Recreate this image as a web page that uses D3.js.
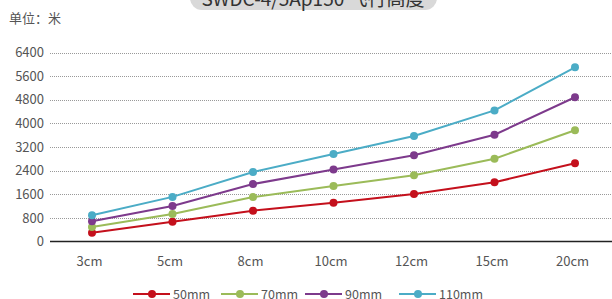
<!DOCTYPE html>
<html>
<head>
<meta charset="utf-8">
<script src="https://cdn.jsdelivr.net/npm/d3@7"></script>
<style>
  body { margin: 0; background: #fff; }
  svg { display: block; font-family: "Noto Sans CJK SC", "Noto Sans", sans-serif; }
</style>
</head>
<body>
<div id="chart"></div>
<script>
// chart data
var categories = ["3cm", "5cm", "8cm", "10cm", "12cm", "15cm", "20cm"];
var seriesNames = ["50mm", "70mm", "90mm", "110mm"];
var s50  = [300, 665, 1045, 1310, 1610, 2005, 2650];
var s70  = [490, 930, 1505, 1880, 2240, 2805, 3765];
var s90  = [685, 1205, 1945, 2440, 2920, 3615, 4885];
var s110 = [890, 1510, 2355, 2965, 3575, 4440, 5900];
var yTicks = [0, 800, 1600, 2400, 3200, 4000, 4800, 5600, 6400];
var colors = ["#c4101c", "#9bbb59", "#7d3a8c", "#4bacc6"];

var series = [s50, s70, s90, s110].map(function(v, i) {
  return { name: seriesNames[i], color: colors[i], values: v };
});

var W = 612, H = 299;
var svg = d3.select("#chart").append("svg")
  .attr("width", W).attr("height", H);

// scales
var x = d3.scalePoint()
  .domain(categories)
  .range([92, 575]);
var y = d3.scaleLinear()
  .domain([0, 6400])
  .range([241.5, 52.5]);

// title box (cut off at top)
svg.append("rect")
  .attr("x", 190).attr("y", -20)
  .attr("width", 247).attr("height", 30)
  .attr("rx", 12)
  .attr("fill", "#d9d9d9");
svg.append("text")
  .attr("x", 313).attr("y", 6)
  .attr("text-anchor", "middle")
  .attr("fill", "#333")
  .style("font-size", "19px")
  .text("SWDC-4/5Ap150 飞行高度");

// unit label
svg.append("text")
  .attr("x", 9).attr("y", 23)
  .attr("fill", "#555")
  .style("font-size", "13px")
  .text("单位：米");

// grid + y axis
var yAxis = svg.append("g")
  .attr("transform", "translate(50,0)")
  .call(d3.axisLeft(y).tickValues(yTicks).tickSize(0).tickPadding(6).tickFormat(d3.format("d")));
yAxis.select(".domain").remove();
yAxis.selectAll("text")
  .attr("fill", "#555")
  .style("font-size", "13px")
  .style("font-family", "'Noto Sans CJK SC', sans-serif");

svg.append("g").selectAll("line")
  .data(yTicks.filter(function(d) { return d > 0; }))
  .enter().append("line")
    .attr("x1", 50).attr("x2", W)
    .attr("y1", function(d) { return Math.round(y(d)) + 0.5; })
    .attr("y2", function(d) { return Math.round(y(d)) + 0.5; })
    .attr("stroke", "#999")
    .attr("stroke-dasharray", "1,1");

svg.append("line")
  .attr("x1", 50).attr("x2", W)
  .attr("y1", y(0)).attr("y2", y(0))
  .attr("stroke", "#222")
  .attr("stroke-width", 1.5);

// x axis labels
var xAxis = svg.append("g")
  .attr("transform", "translate(-3," + y(0) + ")")
  .call(d3.axisBottom(x).tickSize(0).tickPadding(15));
xAxis.select(".domain").remove();
xAxis.selectAll("text")
  .attr("fill", "#555")
  .style("font-size", "13px")
  .style("font-family", "'Noto Sans CJK SC', sans-serif");

// lines
var line = d3.line()
  .x(function(d, i) { return x(categories[i]); })
  .y(function(d) { return y(d); });

var g = svg.selectAll(".series")
  .data(series)
  .enter().append("g")
  .attr("class", "series");

g.append("path")
  .attr("d", function(d) { return line(d.values); })
  .attr("fill", "none")
  .attr("stroke", function(d) { return d.color; })
  .attr("stroke-width", 2);

g.selectAll("circle")
  .data(function(d) { return d.values.map(function(v, i) { return { v: v, i: i, c: d.color }; }); })
  .enter().append("circle")
    .attr("cx", function(d) { return x(categories[d.i]); })
    .attr("cy", function(d) { return y(d.v); })
    .attr("r", 4)
    .attr("fill", function(d) { return d.c; });

// legend
var legendX = [133, 221, 305, 399];
var leg = svg.selectAll(".leg")
  .data(series)
  .enter().append("g")
  .attr("transform", function(d, i) { return "translate(" + legendX[i] + ",294)"; });
leg.append("line")
  .attr("x1", 0).attr("x2", 37)
  .attr("stroke", function(d) { return d.color; })
  .attr("stroke-width", 2);
leg.append("circle")
  .attr("cx", 19).attr("r", 4)
  .attr("fill", function(d) { return d.color; });
leg.append("text")
  .attr("x", 40).attr("y", 4.5)
  .attr("fill", "#555")
  .style("font-size", "12.5px")
  .text(function(d) { return d.name; });
</script>
</body>
</html>
